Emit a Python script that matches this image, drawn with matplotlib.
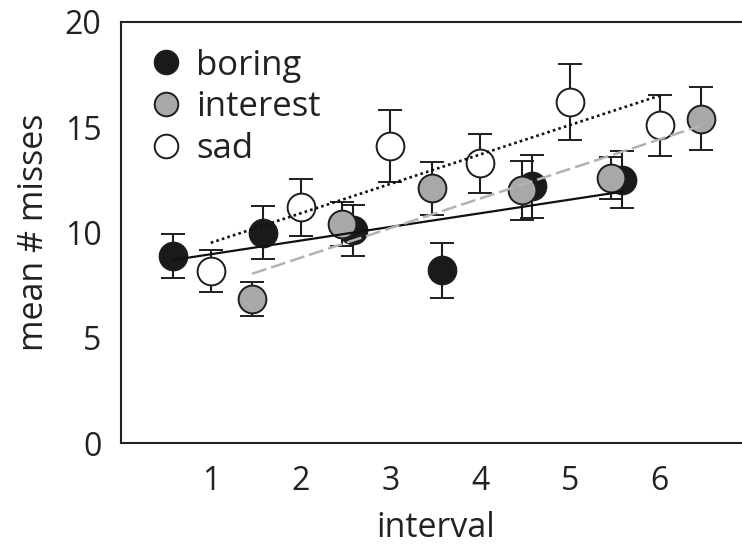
import numpy as np
import matplotlib
matplotlib.use("Agg")
import matplotlib.pyplot as plt
from matplotlib.lines import Line2D

plt.rcParams['font.family'] = ['Open Sans', 'DejaVu Sans']

intervals = [1, 2, 3, 4, 5, 6]
groups = ["boring", "interest", "sad"]

# mean # misses and error bar half-lengths
boring = [8.9, 10.0, 10.1, 8.2, 12.2, 12.5]
boring_err = [1.05, 1.25, 1.2, 1.3, 1.5, 1.35]
interest = [6.85, 10.4, 12.1, 12.0, 12.6, 15.4]
interest_err = [0.8, 1.05, 1.25, 1.4, 1.0, 1.5]
sad = [8.15, 11.2, 14.1, 13.3, 16.2, 15.1]
sad_err = [1.0, 1.35, 1.7, 1.4, 1.8, 1.45]

offsets = {"boring": -0.42, "interest": 0.46, "sad": 0.0}
fills = {"boring": "#1a1a1a", "interest": "#a8a8a8", "sad": "white"}
trend = {"boring": dict(color="#111111", ls="-", lw=1.6),
         "interest": dict(color="#b3b3b3", ls=(0, (6, 2)), lw=1.8),
         "sad": dict(color="#111111", ls=(0, (1, 1.2)), lw=1.9)}
data = {"boring": (boring, boring_err),
        "interest": (interest, interest_err),
        "sad": (sad, sad_err)}

fig = plt.figure(figsize=(7.42, 5.45), dpi=100)
ax = fig.add_axes([121 / 742, 102 / 545, 7 * 89.8 / 742, 421 / 545])

x0 = np.array(intervals, dtype=float)
for g in ["boring", "sad", "interest"]:
    y, e = data[g]
    xs = x0 + offsets[g]
    ax.errorbar(xs, y, yerr=e, fmt="o", ms=20, mfc=fills[g], mec="#1e1e1e",
                mew=1.4, ecolor="#1e1e1e", elinewidth=1.5, capsize=8.3,
                capthick=1.5, zorder=3)

# least-squares trend line per group
for g in ["boring", "sad", "interest"]:
    y, e = data[g]
    xs = x0 + offsets[g]
    k, b = np.polyfit(xs, y, 1)
    ax.plot([xs[0], xs[-1]], [k * xs[0] + b, k * xs[-1] + b], zorder=4,
            **trend[g])

ax.set_xlim(0, 7)
ax.set_ylim(0, 20)
ax.set_xticks(intervals)
ax.set_yticks([0, 5, 10, 15, 20])
ax.tick_params(length=0, labelsize=23, colors="#222222")
ax.tick_params(axis="x", pad=16)
ax.tick_params(axis="y", pad=14)
for s in ax.spines.values():
    s.set_linewidth(1.5)
    s.set_color("#222222")

ax.set_xlabel("interval", fontsize=24.5, labelpad=9, color="#222222")
ax.set_ylabel("mean # misses", fontsize=24.5, labelpad=10, color="#222222")

handles = [Line2D([], [], ls="none", marker="o", ms=17, mfc=fills[g],
                  mec="#1e1e1e", mew=1.4) for g in groups]
leg = ax.legend(handles, groups, loc="upper left", frameon=False,
                fontsize=25, handletextpad=0.25, labelspacing=0.22,
                borderaxespad=0.0, handlelength=1.2,
                bbox_to_anchor=(0.017, 0.97))
for t in leg.get_texts():
    t.set_color("#222222")

fig.savefig("out.png", dpi=100)
